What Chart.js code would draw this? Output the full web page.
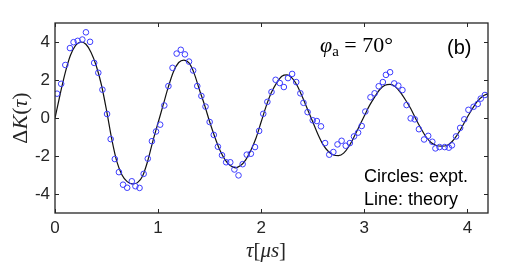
<!DOCTYPE html>
<html>
<head>
<meta charset="utf-8">
<script src="https://cdn.jsdelivr.net/npm/chart.js@4"></script>
<style>
  html, body { margin: 0; padding: 0; background: #fff; }
</style>
</head>
<body>
<canvas id="chart1" width="509" height="265"></canvas>
<script>
// measured points (circles)
const exptT = [0.02, 0.06, 0.10, 0.145, 0.18, 0.22, 0.265, 0.30, 0.34, 0.38, 0.42, 0.46, 0.505, 0.54, 0.58, 0.62, 0.66, 0.70, 0.745, 0.78,
  0.82, 0.86, 0.90, 0.94, 0.98, 1.02, 1.06, 1.10, 1.14, 1.18, 1.22, 1.26, 1.30, 1.34, 1.38, 1.42, 1.46, 1.50, 1.54, 1.58,
  1.62, 1.66, 1.70, 1.74, 1.78, 1.82, 1.86, 1.90, 1.94, 1.98, 2.02, 2.06, 2.10, 2.14, 2.18, 2.22, 2.26, 2.30, 2.34, 2.38,
  2.41, 2.45, 2.50, 2.54, 2.58, 2.62, 2.66, 2.70, 2.74, 2.78, 2.82, 2.86, 2.90, 2.94, 2.975, 3.01, 3.06, 3.10, 3.14, 3.18,
  3.21, 3.25, 3.29, 3.33, 3.37, 3.41, 3.45, 3.49, 3.53, 3.58, 3.62, 3.66, 3.69, 3.73, 3.78, 3.82, 3.85, 3.89, 3.93, 3.97,
  4.01, 4.06, 4.10, 4.13, 4.17];
const exptK = [1.28, 1.80, 2.79, 3.68, 3.99, 4.06, 4.13, 4.51, 4.01, 2.90, 2.38, 1.49, 0.21, -1.11, -2.16, -2.85, -3.51, -3.67, -3.33, -3.59,
  -3.68, -2.94, -2.14, -1.22, -0.71, -0.35, 0.66, 1.68, 2.64, 3.39, 3.59, 3.35, 2.97, 2.50, 1.68, 1.16, 0.60, -0.21, -0.89, -1.51,
  -1.96, -2.33, -2.33, -2.71, -3.02, -2.43, -1.93, -1.88, -1.53, -0.68, 0.22, 0.85, 1.37, 2.01, 1.84, 1.63, 2.10, 2.32, 1.89, 1.30,
  0.80, 0.31, -0.12, -0.16, -0.44, -1.32, -1.93, -1.79, -1.39, -1.20, -1.46, -1.32, -0.97, -0.77, -0.42, 0.34, 1.09, 1.30, 1.67, 1.89,
  2.27, 2.41, 1.82, 1.70, 1.47, 0.68, -0.02, -0.07, -0.59, -1.13, -0.94, -1.25, -1.60, -1.53, -1.53, -1.56, -1.44, -0.97, -0.52, -0.07,
  0.43, 0.59, 0.74, 1.02, 1.21];

// theory curve
const theoryT = [0, 0.05, 0.10, 0.15, 0.20, 0.25, 0.30, 0.35, 0.40, 0.45, 0.50, 0.55, 0.60, 0.65, 0.70, 0.75, 0.80, 0.85, 0.90, 0.95,
  1.00, 1.05, 1.10, 1.15, 1.20, 1.25, 1.30, 1.35, 1.40, 1.45, 1.50, 1.55, 1.60, 1.65, 1.70, 1.75, 1.80, 1.85, 1.90, 1.95,
  2.00, 2.05, 2.10, 2.15, 2.20, 2.25, 2.30, 2.35, 2.40, 2.45, 2.50, 2.55, 2.60, 2.65, 2.70, 2.75, 2.80, 2.85, 2.90, 2.95,
  3.00, 3.05, 3.10, 3.15, 3.20, 3.25, 3.30, 3.35, 3.40, 3.45, 3.50, 3.55, 3.60, 3.65, 3.70, 3.75, 3.80, 3.85, 3.90, 3.95,
  4.00, 4.05, 4.10, 4.15, 4.20];
const theoryK = [0, 1.25, 2.4, 3.3, 3.82, 4.0, 3.88, 3.45, 2.75, 1.75, 0.4, -1.1, -2.3, -3.0, -3.35, -3.47, -3.4, -3.05, -2.25, -1.2,
  -0.25, 0.7, 1.65, 2.45, 2.92, 3.05, 2.9, 2.35, 1.5, 0.7, -0.2, -1.0, -1.7, -2.2, -2.5, -2.62, -2.5, -2.2, -1.7, -1.05,
  -0.2, 0.65, 1.35, 1.85, 2.2, 2.27, 2.1, 1.7, 1.1, 0.45, -0.2, -0.85, -1.4, -1.75, -1.95, -1.98, -1.85, -1.5, -1.0, -0.45,
  0.1, 0.65, 1.1, 1.5, 1.72, 1.77, 1.65, 1.35, 0.95, 0.5, -0.05, -0.55, -1.0, -1.3, -1.45, -1.48, -1.45, -1.25, -0.9, -0.45,
  0.05, 0.5, 0.9, 1.15, 1.28];

const xTicks = [0, 1, 2, 3, 4];
const yTicks = [-4, -2, 0, 2, 4];

const SERIF = '"Liberation Serif", "DejaVu Serif", serif';
const SANS = '"Liberation Sans", Arial, sans-serif';

function drawRuns(ctx, runs, x, y, align) {
  let w = 0;
  runs.forEach(r => { ctx.font = r.font; w += ctx.measureText(r.text).width; });
  let cx = align === 'center' ? x - w / 2 : x;
  runs.forEach(r => {
    ctx.font = r.font;
    ctx.fillText(r.text, cx, y + (r.dy || 0));
    cx += ctx.measureText(r.text).width;
  });
}

const framePlugin = {
  id: 'frame',
  afterDatasetsDraw(chart) {
    const ctx = chart.ctx;
    const a = chart.chartArea;
    const xs = chart.scales.x, ys = chart.scales.y;
    ctx.save();
    ctx.strokeStyle = '#262626';
    ctx.lineWidth = 1.3;
    ctx.strokeRect(a.left, a.top, a.right - a.left, a.bottom - a.top);
    ctx.lineWidth = 1;
    ctx.beginPath();
    xTicks.forEach(v => {
      const px = Math.round(xs.getPixelForValue(v)) + 0.5;
      ctx.moveTo(px, a.bottom); ctx.lineTo(px, a.bottom - 4);
      ctx.moveTo(px, a.top); ctx.lineTo(px, a.top + 4);
    });
    yTicks.forEach(v => {
      const py = Math.round(ys.getPixelForValue(v)) + 0.5;
      ctx.moveTo(a.left, py); ctx.lineTo(a.left + 4, py);
      ctx.moveTo(a.right, py); ctx.lineTo(a.right - 4, py);
    });
    ctx.stroke();
    ctx.restore();
  },
  afterDraw(chart) {
    const ctx = chart.ctx;
    ctx.save();
    ctx.fillStyle = '#262626';
    ctx.textBaseline = 'alphabetic';
    // x axis title
    drawRuns(ctx, [
      { text: 'τ', font: 'italic 21px ' + SERIF },
      { text: '[', font: '21px ' + SERIF },
      { text: 'μs', font: 'italic 21px ' + SERIF },
      { text: ']', font: '21px ' + SERIF }
    ], 266, 257, 'center');
    // y axis title
    ctx.save();
    ctx.translate(27, 118);
    ctx.rotate(-Math.PI / 2);
    drawRuns(ctx, [
      { text: 'Δ', font: '22px ' + SERIF },
      { text: 'K', font: 'italic 22px ' + SERIF },
      { text: '(', font: '22px ' + SERIF },
      { text: 'τ', font: 'italic 22px ' + SERIF },
      { text: ')', font: '22px ' + SERIF }
    ], 0, 0, 'center');
    ctx.restore();
    // annotations
    ctx.fillStyle = '#000';
    drawRuns(ctx, [
      { text: 'φ', font: 'italic 22px ' + SERIF },
      { text: 'a', font: '15px ' + SERIF, dy: 4 },
      { text: ' = 70°', font: '22px ' + SERIF }
    ], 320, 52, 'left');
    ctx.font = '20px ' + SANS;
    ctx.fillText('(b)', 447, 54);
    ctx.font = '18px ' + SANS;
    ctx.fillText('Circles: expt.', 364, 182);
    ctx.fillText('Line: theory', 364, 205);
    ctx.restore();
  }
};

const ctx1 = document.getElementById('chart1').getContext('2d');
const chart1 = new Chart(ctx1, {
  type: 'scatter',
  data: {
    datasets: [{
      label: 'theory',
      type: 'line',
      data: theoryT.map((t, i) => ({ x: t, y: theoryK[i] })),
      borderColor: '#111',
      borderWidth: 1.2,
      pointRadius: 0,
      cubicInterpolationMode: 'monotone',
      fill: false,
      order: 2
    }, {
      label: 'expt',
      data: exptT.map((t, i) => ({ x: t, y: exptK[i] })),
      borderColor: 'rgb(60, 60, 255)',
      backgroundColor: 'rgba(0,0,0,0)',
      borderWidth: 1,
      pointRadius: 2.8,
      order: 1
    }]
  },
  options: {
    responsive: false,
    animation: false,
    devicePixelRatio: 1,
    layout: { padding: { top: 23, right: 21, left: 0, bottom: 0 } },
    plugins: { legend: { display: false }, tooltip: { enabled: false } },
    scales: {
      x: {
        type: 'linear',
        min: 0,
        max: 4.2,
        afterBuildTicks: s => { s.ticks = xTicks.map(v => ({ value: v })); },
        afterFit: s => { s.height = 52; },
        grid: { display: false, drawTicks: false },
        border: { display: false },
        ticks: { font: { family: SANS, size: 17 }, color: '#262626', padding: 5 }
      },
      y: {
        min: -5,
        max: 5,
        afterBuildTicks: s => { s.ticks = yTicks.map(v => ({ value: v })); },
        afterFit: s => { s.width = 55; },
        grid: { display: false, drawTicks: false },
        border: { display: false },
        ticks: { font: { family: SANS, size: 17 }, color: '#262626', padding: 5 }
      }
    }
  },
  plugins: [framePlugin]
});
</script>
</body>
</html>
